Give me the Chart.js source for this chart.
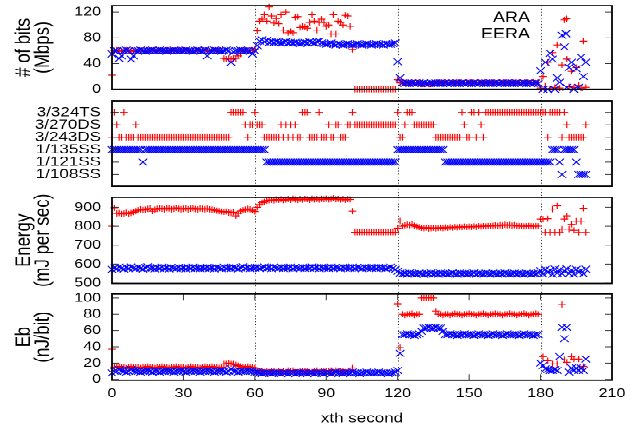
<!DOCTYPE html>
<html><head><meta charset="utf-8">
<script src="https://cdn.jsdelivr.net/npm/chart.js@4.4.1/dist/chart.umd.min.js"></script>
<style>
html,body{margin:0;padding:0;background:#fff;overflow:hidden;width:641px;height:430px;}
#wrap{position:absolute;left:0;top:0;width:641px;height:538px;transform:scaleY(0.799257);transform-origin:0 0;}
#wrap canvas{position:absolute;left:0;top:0;}
</style></head><body>
<div id="wrap">
<canvas id="c1" width="641" height="538"></canvas>
<canvas id="c2" width="641" height="538"></canvas>
<canvas id="c3" width="641" height="538"></canvas>
<canvas id="c4" width="641" height="538"></canvas>
</div>
<script>
// ---- categories / ticks ----
const seconds = Array.from({length: 200}, (_, i) => i);
const xTicks = [0, 30, 60, 90, 120, 150, 180, 210];
const phaseMarks = [60, 120, 180];
const bitsTicks = [0, 40, 80, 120];
const mcsLabels = ['1/108SS', '1/121SS', '1/135SS', '3/243DS', '3/270DS', '3/324TS'];
const mcsTicks = [0, 1, 2, 3, 4, 5];
const energyTicks = [500, 600, 700, 800, 900];
const ebTicks = [0, 20, 40, 60, 80, 100];

// ---- panel 1: # of bits (Mbps) ----
const araBits = [
 22,60,61,60,59,60,61,60,60,59, 60,61,60,60,59,61,60,60,61,60,
 60,59,60,61,60,60,60,59,61,60, 61,60,60,59,60,61,60,60,61,60,
 60,59,61,60,60,61,59,48,47,48, 47,48,48,52,55,60,61,60,60,61,
 62,91,106,109,116,106,128,114,103,110, 102,116,92,120,88,90,88,112,113,96,
 98,97,95,104,116,106,92,104,109,104, 98,100,86,116,86,106,104,100,115,114,
 98,62,0,0,0,0,0,0,0,0, 0,0,0,0,0,0,0,0,0,0,
 15,10,11,10,10,9,11,10,10,11, 8,8,9,8,8,9,10,11,10,10,
 11,10,10,11,10,10,11,10,10,11, 10,11,10,10,11,10,10,11,10,10,
 11,10,10,11,10,11,10,10,11,10, 10,11,10,10,11,10,10,11,10,11,
 2,20,5,42,1,57,3,69,2,38, 108,47,4,28,3,34,6,2,75,3
];
const eeraBits = [
 55,60,60,48,52,60,61,60,47,52, 60,60,61,60,59,60,60,61,60,60,
 61,60,60,59,60,60,61,60,60,60, 60,61,60,60,59,60,61,60,60,61,
 52,60,60,61,60,60,59,60,61,60, 42,58,60,60,61,60,60,60,59,55,
 60,68,75,77,74,76,73,74,73,74, 73,72,73,74,72,73,72,73,72,71,
 72,73,72,74,73,72,74,75,72,71, 70,71,72,70,69,71,70,69,70,71,
 70,69,70,71,70,69,70,71,70,69, 70,71,70,70,69,71,70,70,71,72,
 43,18,10,9,10,9,10,9,9,10, 9,10,9,9,10,9,10,9,10,9,
 10,9,9,10,9,10,9,10,9,9, 10,9,10,9,9,10,9,10,9,10,
 9,10,9,9,10,9,10,9,10,9, 10,9,9,10,9,10,9,9,10,9,
 29,0,42,0,56,47,0,18,11,84, 66,3,34,42,0,32,3,50,20,42
];

// ---- panel 2: MCS index (0..5 -> mcsLabels) ----
const araMcs = [
 3,5,4,3,3,5,3,3,3,3, 4,3,3,3,3,3,3,3,3,3,
 3,3,3,3,3,3,3,3,3,3, 3,3,3,3,3,3,3,3,3,3,
 3,3,3,3,3,3,3,3,3,3, 5,5,5,5,5,5,4,3,4,4,
 5,4,4,4,3,3,3,3,3,3, 3,4,3,4,3,4,3,4,3,3,
 5,5,5,3,3,3,3,5,3,3, 3,4,3,3,4,4,3,3,3,4,
 4,5,4,4,4,4,4,4,4,4, 4,4,4,4,4,4,4,4,4,4,
 5,3,3,4,5,5,5,4,4,4, 4,4,4,4,4,4,3,3,3,3,
 3,3,3,3,3,3,3,5,4,3, 3,5,5,3,5,4,3,5,5,5,
 5,5,5,5,5,5,5,5,5,5, 5,5,5,5,5,5,5,5,5,5,
 5,5,5,3,5,5,5,5,5,3, 5,4,3,3,3,3,3,3,3,4
];
const eeraMcs = [
 2,2,2,2,2,2,2,2,2,2, 2,2,2,1,2,2,2,2,2,2,
 2,2,2,2,2,2,2,2,2,2, 2,2,2,2,2,2,2,2,2,2,
 2,2,2,2,2,2,2,2,2,2, 2,2,2,2,2,2,2,2,2,2,
 2,2,2,2,2,1,1,1,1,1, 1,1,1,1,1,1,1,1,1,1,
 1,1,1,1,1,1,1,1,1,1, 1,1,1,1,1,1,1,1,1,1,
 1,1,1,1,1,1,1,1,1,1, 1,1,1,1,1,1,1,1,1,1,
 2,2,2,2,2,2,2,2,2,2, 2,2,2,2,2,2,2,2,2,2,
 1,1,1,1,1,1,1,1,1,1, 1,1,1,1,1,1,1,1,1,1,
 1,1,1,1,1,1,1,1,1,1, 1,1,1,1,1,1,1,1,1,1,
 1,1,1,1,1,2,2,2,1,0, 2,2,2,2,2,1,0,0,0,0
];

// ---- panel 3: Energy (mJ per sec) ----
const araEnergy = [
 800,898,868,870,865,868,872,866,870,875, 880,885,890,886,888,892,894,880,888,892,
 895,893,890,896,894,890,892,897,893,890, 892,895,890,893,896,891,889,894,892,890,
 893,890,888,885,882,880,878,876,878,872, 870,875,855,868,880,885,888,892,890,884,
 878,900,915,925,930,935,938,940,937,942, 940,943,938,941,944,940,946,942,939,944,
 941,945,943,940,946,942,944,941,945,943, 946,942,944,948,943,945,941,944,940,943,
 942,880,768,768,768,768,768,768,768,768, 768,768,768,768,768,768,768,768,768,768,
 790,828,800,805,808,806,810,803,798,795, 792,790,793,788,790,792,789,791,793,790,
 794,792,795,793,796,794,797,795,798,796, 798,796,799,797,800,798,801,799,802,800,
 803,805,802,806,804,808,805,807,804,806, 802,800,801,799,800,802,800,799,801,800,
 838,838,767,840,767,891,767,908,767,785, 838,855,785,810,778,827,767,827,895,767
];
const eeraEnergy = [
 572,580,576,584,578,574,582,577,585,579, 576,583,578,574,581,586,577,579,575,582,
 578,584,576,580,575,582,579,577,583,576, 580,575,582,578,584,577,579,576,581,578,
 583,577,580,575,582,579,576,584,578,581, 577,583,579,575,580,586,578,582,576,580,
 579,583,577,581,585,578,582,576,584,580, 578,583,577,581,579,584,576,582,580,578,
 583,577,581,579,585,578,582,576,583,579, 581,577,584,578,582,580,576,583,579,581,
 578,584,577,582,580,576,583,579,581,578, 582,577,583,579,581,576,580,584,578,572,
 562,552,548,551,546,553,549,550,547,552, 549,545,551,548,553,547,550,546,552,549,
 551,547,550,553,548,546,552,549,551,547, 550,548,553,546,551,549,547,552,550,548,
 552,549,546,551,548,553,550,547,549,552, 548,551,549,546,552,550,547,551,549,553,
 565,548,572,555,568,546,574,552,570,549, 563,575,550,568,547,572,556,566,549,573
];

// ---- panel 4: Eb (nJ/bit) ----
const araEb = [
 37,15,15,16,15,15,14,15,16,15, 15,15,14,15,15,16,15,15,14,15,
 15,16,15,15,14,15,15,16,15,15, 15,14,15,16,15,15,15,14,15,16,
 15,15,16,15,15,14,15,19,19,20, 19,19,18,17,16,15,15,16,15,15,
 14,11,10,10,9,10,9,10,10,9, 10,9,10,9,11,10,11,9,9,10,
 10,10,10,9,9,10,11,9,10,10, 10,10,11,9,11,10,10,10,9,9,
 10,14,null,null,null,null,null,null,null,null, null,null,null,null,null,null,null,null,null,null,
 93,39,80,79,80,80,81,79,80,80, 100,100,100,100,100,100,84,80,80,79,
 80,80,79,80,81,80,80,79,80,80, 81,80,80,79,80,80,81,80,79,80,
 80,81,80,80,79,80,80,81,80,80, 79,80,80,81,80,79,80,80,81,80,
 null,28,null,23,null,19,null,19,null,92, 24,21,null,28,25,null,25,null,16,null
];
const eeraEb = [
 8,10,10,12,11,10,9,10,12,11, 10,10,9,10,10,11,10,9,10,10,
 9,10,10,11,10,10,9,10,10,11, 10,9,10,10,11,10,10,9,10,10,
 11,10,10,9,10,10,11,10,9,10, 13,10,10,9,10,10,10,11,10,10,
 9,9,8,7,8,8,8,7,8,8, 8,7,8,8,7,8,8,7,8,8,
 8,8,7,8,8,7,8,8,8,7, 8,8,7,8,9,8,8,7,8,8,
 8,9,8,8,7,8,8,9,8,8, 8,8,9,8,8,8,7,8,8,9,
 11,32,55,55,56,55,55,54,55,56, 59,63,63,64,63,63,64,63,63,59,
 55,55,56,55,55,54,55,55,56,55, 55,55,54,55,56,55,55,55,54,55,
 56,55,55,55,54,55,56,55,55,55, 55,54,55,56,55,55,55,54,55,55,
 20,17,13,12,11,11,12,11,28,64, 50,64,9,14,11,14,11,14,11,25
];

// ---- rendering ----
const FONT = "'Liberation Sans', Arial, Helvetica, sans-serif";
const H = 538;
const RED = '#ff0000', BLUE = '#0000ff';
const PLOT_LEFT = 112, PLOT_RIGHT_PAD = 29;
const X_RAD = 6.0, P_RAD = 3.9;

const framePlugin = {
  id: 'frame',
  beforeDatasetsDraw(chart, args, opts) {
    const {ctx, chartArea: a} = chart;
    const x = chart.scales.x;
    ctx.save();
    ctx.strokeStyle = '#333';
    ctx.lineWidth = 1;
    ctx.setLineDash([1.2, 2.6]);
    phaseMarks.forEach(v => {
      const px = Math.round(x.getPixelForValue(v)) + 0.5;
      ctx.beginPath(); ctx.moveTo(px, a.top); ctx.lineTo(px, opts.dotEnd); ctx.stroke();
    });
    ctx.restore();
  },
  afterDatasetsDraw(chart, args, opts) {
    const {ctx, chartArea: a} = chart;
    const y = chart.scales.y, x = chart.scales.x;
    ctx.save();
    ctx.strokeStyle = '#333';
    ctx.lineWidth = 1;
    y.ticks.forEach(t => {
      const py = y.getPixelForValue(t.value);
      ctx.beginPath();
      ctx.moveTo(a.left, py); ctx.lineTo(a.left + 7, py);
      ctx.moveTo(a.right, py); ctx.lineTo(a.right - 7, py);
      ctx.stroke();
    });
    if (opts.xTicks) {
      xTicks.forEach(v => {
        const px = x.getPixelForValue(v);
        ctx.beginPath();
        ctx.moveTo(px, a.top); ctx.lineTo(px, a.top + 7.5);
        ctx.moveTo(px, a.bottom); ctx.lineTo(px, a.bottom - 7.5);
        ctx.stroke();
      });
    }
    ctx.strokeStyle = '#000';
    ctx.lineWidth = 1.8;
    ctx.strokeRect(a.left, a.top, a.right - a.left, a.bottom - a.top);
    if (opts.legend) {
      ctx.fillStyle = '#000';
      ctx.font = '18px ' + FONT;
      ctx.textAlign = 'right';
      ctx.textBaseline = 'middle';
      ctx.fillText('ARA', 530, 22.5);
      ctx.fillText('EERA', 530, 42.9);
      ctx.lineWidth = 1.2;
      ctx.strokeStyle = RED;
      ctx.beginPath();
      ctx.moveTo(566.5 - P_RAD, 23.4); ctx.lineTo(566.5 + P_RAD, 23.4);
      ctx.moveTo(566.5, 23.4 - P_RAD); ctx.lineTo(566.5, 23.4 + P_RAD);
      ctx.stroke();
      ctx.strokeStyle = BLUE;
      const d = X_RAD * Math.SQRT1_2;
      ctx.beginPath();
      ctx.moveTo(566 - d, 42.2 - d); ctx.lineTo(566 + d, 42.2 + d);
      ctx.moveTo(566 - d, 42.2 + d); ctx.lineTo(566 + d, 42.2 - d);
      ctx.stroke();
    }
    ctx.restore();
  }
};

function pts(arr) { return arr.map((v, i) => ({x: seconds[i], y: v})); }

function panel(id, o) {
  const bottomAxis = !!o.bottomAxis;
  const xScale = {
    type: 'linear', min: 0, max: 210, display: bottomAxis,
    grid: {display: false, drawTicks: false, tickLength: 0}, border: {display: false},
    afterBuildTicks: s => { s.ticks = xTicks.map(v => ({value: v})); },
    afterFit: s => { if (bottomAxis) s.height = H - o.bottom; s.paddingLeft = 0; s.paddingRight = 0; },
    ticks: {autoSkip: false, maxRotation: 0, padding: 7, color: '#000',
            font: {family: FONT, size: 16, lineHeight: 1.2}, callback: v => String(v)},
    title: {display: bottomAxis, text: 'xth second', color: '#000',
            font: {family: FONT, size: 17, lineHeight: 1.2}, padding: {top: 0, bottom: 4}}
  };
  const yScale = {
    type: 'linear', position: 'left', min: o.min, max: o.max,
    grid: {display: false, drawTicks: false, tickLength: 0}, border: {display: false},
    afterBuildTicks: s => { s.ticks = o.ticks.map(v => ({value: v})); },
    afterFit: s => { s.width = PLOT_LEFT; s.paddingTop = 0; s.paddingBottom = 0; },
    ticks: {autoSkip: false, padding: 11, color: '#000',
            font: {family: FONT, size: o.tickSize || 16, lineHeight: 1},
            callback: o.labels ? (v => o.labels[v]) : (v => String(v))},
    title: o.title ? {display: true, text: o.title, color: '#000',
            font: {family: FONT, size: 21, lineHeight: 0.9}, padding: {top: 15, bottom: 0}}
          : {display: false}
  };
  return new Chart(document.getElementById(id), {
    type: 'line',
    data: {
      datasets: [
        {label: 'EERA', data: pts(o.eera), order: 0, showLine: false, clip: false,
         pointStyle: 'crossRot', pointRadius: X_RAD, pointBorderWidth: 1.1,
         borderColor: BLUE, backgroundColor: BLUE, pointBorderColor: BLUE},
        {label: 'ARA', data: pts(o.ara), order: 1, showLine: false, clip: false,
         pointStyle: 'cross', pointRadius: P_RAD, pointBorderWidth: 1.2,
         borderColor: RED, backgroundColor: RED, pointBorderColor: RED}
      ]
    },
    options: {
      responsive: false, animation: false, devicePixelRatio: 2, events: [],
      layout: {padding: {left: 0, right: PLOT_RIGHT_PAD, top: o.top, bottom: bottomAxis ? 0 : H - o.bottom}},
      scales: {x: xScale, y: yScale},
      plugins: {
        legend: {display: false}, tooltip: {enabled: false},
        frame: {dotEnd: o.dotEnd, legend: !!o.legend, xTicks: bottomAxis}
      }
    },
    plugins: [framePlugin]
  });
}

panel('c1', {top: 5.4, bottom: 111.7, dotEnd: 126.0, min: 0, max: 130, ticks: bitsTicks,
  title: ['# of bits', '(Mbps)'], ara: araBits, eera: eeraBits, legend: true});
panel('c2', {top: 126.0, bottom: 233.1, dotEnd: 246.9, min: -0.95, max: 5.95, ticks: mcsTicks,
  labels: mcsLabels, tickSize: 17, ara: araMcs, eera: eeraMcs});
panel('c3', {top: 246.9, bottom: 354.5, dotEnd: 367.8, min: 498, max: 953, ticks: energyTicks,
  title: ['Energy', '(mJ per sec)'], ara: araEnergy, eera: eeraEnergy});
panel('c4', {top: 367.8, bottom: 475.8, dotEnd: 475.8, min: -1, max: 105, ticks: ebTicks,
  title: ['Eb', '(nJ/bit)'], ara: araEb, eera: eeraEb, bottomAxis: true});
</script>
</body></html>
